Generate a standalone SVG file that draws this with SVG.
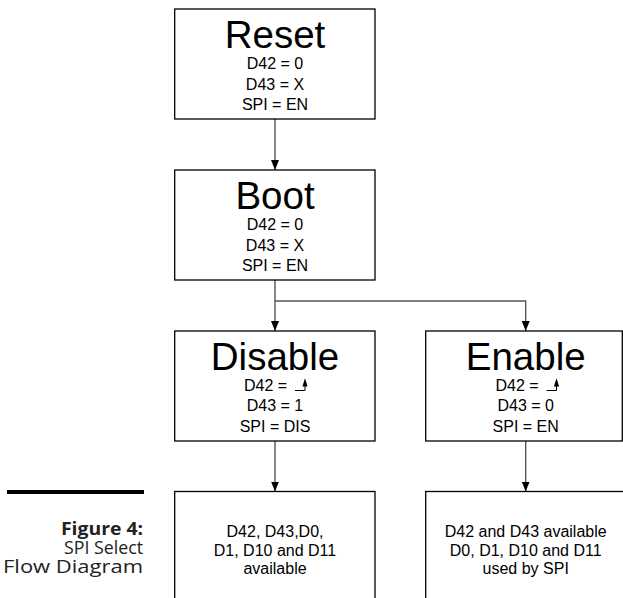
<svg xmlns="http://www.w3.org/2000/svg" width="623" height="598" viewBox="0 0 623 598">
<style>
.box{fill:#fff;stroke:#000;stroke-width:1.3}
.title{font-family:"Liberation Sans",Arial,sans-serif;font-size:38.5px;fill:#000;text-anchor:middle}
.t{font-family:"Liberation Sans",Arial,sans-serif;font-size:16px;fill:#000;text-anchor:middle}
.ts{font-family:"Liberation Sans",Arial,sans-serif;font-size:16px;fill:#000}
.conn{fill:none;stroke:#555;stroke-width:1.4}
.edge{fill:none;stroke:#000;stroke-width:1}
.cap{font-family:"Open Sans","DejaVu Sans",sans-serif;font-size:18px;fill:#222;text-anchor:end}
</style>
<defs>
<marker id="arr" viewBox="0 0 10 8" refX="10" refY="4" markerWidth="10" markerHeight="8" markerUnits="userSpaceOnUse" orient="auto">
<path d="M0,0 L10,4 L0,8 Z" fill="#000"/>
</marker>
</defs>
<rect width="623" height="598" fill="#fff"/>

<g id="connectors">
<line class="conn" x1="275" y1="119" x2="275" y2="170" marker-end="url(#arr)"/>
<line class="conn" x1="275" y1="280" x2="275" y2="331" marker-end="url(#arr)"/>
<polyline class="conn" points="275,301 525.7,301 525.7,331" marker-end="url(#arr)"/>
<line class="conn" x1="275" y1="441" x2="275" y2="491.5" marker-end="url(#arr)"/>
<line class="conn" x1="525.7" y1="441" x2="525.7" y2="491.5" marker-end="url(#arr)"/>
</g>

<g id="reset">
<rect class="box" x="174.7" y="9" width="200.3" height="110"/>
<text class="title" x="275" y="48">Reset</text>
<text class="t" x="275" y="69">D42 = 0</text>
<text class="t" x="275" y="89.5">D43 = X</text>
<text class="t" x="275" y="110">SPI = EN</text>
</g>

<g id="boot">
<rect class="box" x="174.7" y="170" width="200.3" height="110"/>
<text class="title" x="275" y="209">Boot</text>
<text class="t" x="275" y="230">D42 = 0</text>
<text class="t" x="275" y="250.5">D43 = X</text>
<text class="t" x="275" y="271">SPI = EN</text>
</g>

<g id="disable">
<rect class="box" x="174.7" y="331" width="200.3" height="110"/>
<text class="title" x="275" y="370">Disable</text>
<text class="ts" x="244" y="391">D42 = </text>
<polyline class="edge" points="295,390.5 305,390.5 305,385"/>
<path d="M305,378.3 L307.6,386.5 L302.4,386.5 Z" fill="#000"/>
<text class="t" x="275" y="411">D43 = 1</text>
<text class="t" x="275" y="431.5">SPI = DIS</text>
</g>

<g id="enable">
<rect class="box" x="425.7" y="331" width="196.6" height="110"/>
<text class="title" x="525.7" y="370">Enable</text>
<text class="ts" x="495.5" y="391">D42 = </text>
<polyline class="edge" points="546.5,390.5 556.5,390.5 556.5,385"/>
<path d="M556.5,378.3 L559.1,386.5 L553.9,386.5 Z" fill="#000"/>
<text class="t" x="525.7" y="411">D43 = 0</text>
<text class="t" x="525.7" y="431.5">SPI = EN</text>
</g>

<g id="disabled-pins">
<rect class="box" x="174.7" y="491.5" width="200.3" height="130"/>
<text class="t" x="275" y="537">D42, D43,D0,</text>
<text class="t" x="275" y="555.5">D1, D10 and D11</text>
<text class="t" x="275" y="574">available</text>
</g>

<g id="enabled-pins">
<rect class="box" x="425.7" y="491.5" width="200.3" height="130"/>
<text class="t" x="525.7" y="537">D42 and D43 available</text>
<text class="t" x="525.7" y="555.5">D0, D1, D10 and D11</text>
<text class="t" x="525.7" y="574">used by SPI</text>
</g>

<g id="caption">
<rect x="7" y="490" width="137" height="4" fill="#000"/>
<text class="cap" x="143" y="535" font-weight="bold" textLength="82" lengthAdjust="spacingAndGlyphs">Figure 4:</text>
<text class="cap" x="143" y="554" textLength="79" lengthAdjust="spacingAndGlyphs">SPI Select</text>
<text class="cap" x="143" y="572.5" textLength="140" lengthAdjust="spacingAndGlyphs">Flow Diagram</text>
</g>
</svg>
